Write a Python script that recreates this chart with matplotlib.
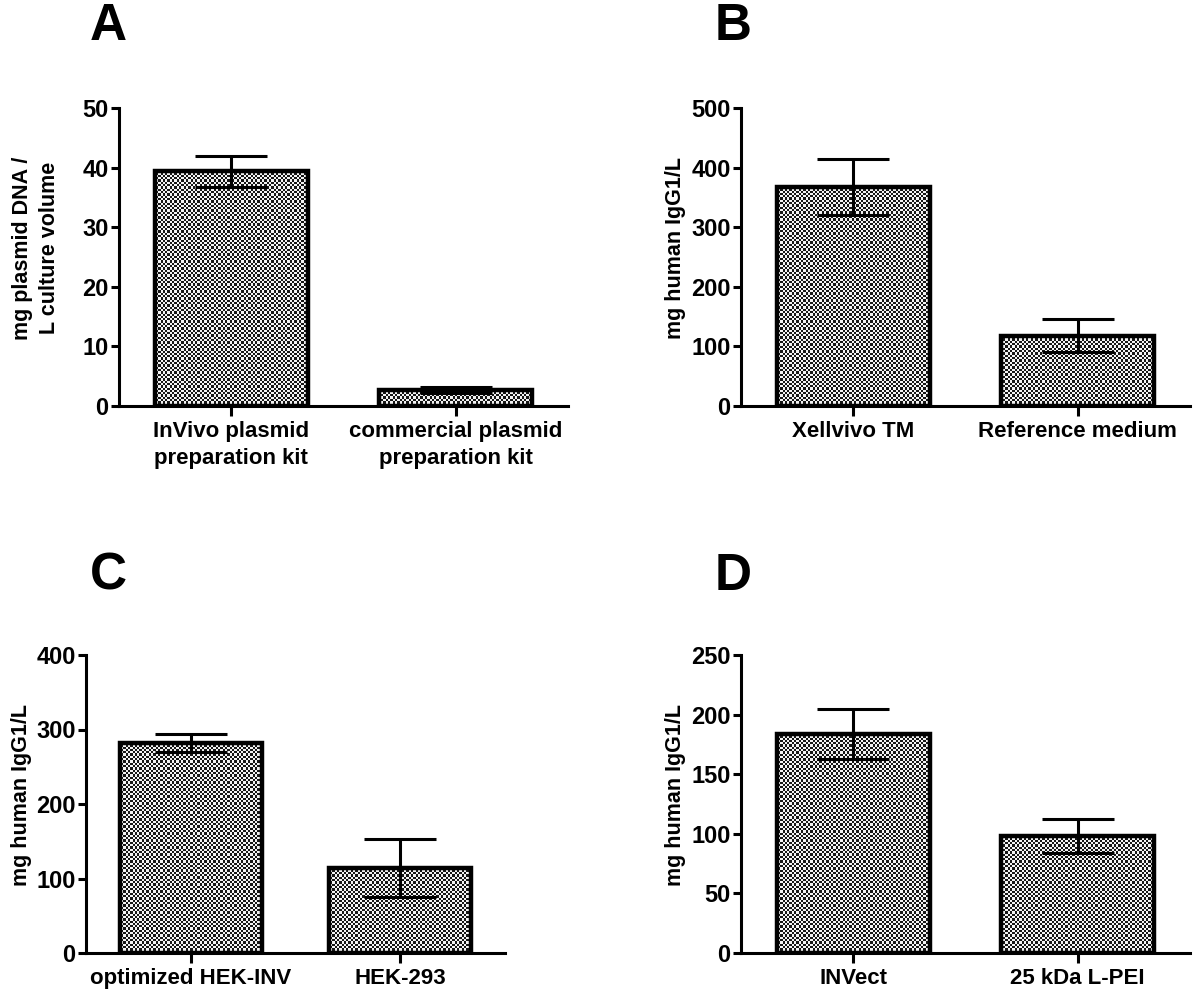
import numpy as np
import matplotlib
matplotlib.use('Agg')
import matplotlib.pyplot as plt

plt.rcParams['font.family'] = ['Liberation Sans', 'DejaVu Sans']
plt.rcParams['font.weight'] = 'bold'

# panel data (mean, SD)
cats_a = ['InVivo plasmid\npreparation kit', 'commercial plasmid\npreparation kit']
vals_a = [39.4, 2.7]
err_a = [2.6, 0.5]

cats_b = ['Xellvivo TM', 'Reference medium']
vals_b = [368, 118]
err_b = [47, 28]

cats_c = ['optimized HEK-INV', 'HEK-293']
vals_c = [282, 114]
err_c = [12, 39]

cats_d = ['INVect', '25 kDa L-PEI']
vals_d = [184, 98]
err_d = [21, 14]

W, H = 1200, 1000
fig = plt.figure(figsize=(W / 100, H / 100), dpi=100)


def checker(ax, bars):
    # fine checkerboard fill like the original (cell ~2.3 px)
    fig.canvas.draw()
    bb = ax.get_window_extent()
    cell = 2.3
    nx = int(bb.width / cell)
    ny = int(bb.height / cell)
    yy, xx = np.mgrid[0:ny, 0:nx]
    board = ((xx + yy) % 2).astype(float)
    for b in bars:
        im = ax.imshow(board, cmap='gray', vmin=-0.1, vmax=1.05,
                       extent=[0, 1, 0, 1], transform=ax.transAxes,
                       interpolation='nearest', aspect='auto', zorder=1.5)
        im.set_clip_path(b)


def panel(px, cats, vals, errs, ymax, step, ylabel, label_x, letter, lpos):
    # px = left, top, right, bottom in pixels
    l, t, r, b = px
    ax = fig.add_axes([l / W, 1 - b / H, (r - l) / W, (b - t) / H])
    x = np.arange(len(cats))
    bars = ax.bar(x, vals, width=0.68, facecolor='none', edgecolor='black',
                  linewidth=3.2, zorder=2)
    ax.errorbar(x, vals, yerr=errs, fmt='none', ecolor='black', elinewidth=2.2,
                capsize=26, capthick=2.2, zorder=3)
    ax.set_xlim(-0.5, 1.5)
    ax.set_ylim(0, ymax)
    ax.set_yticks(np.arange(0, ymax + 1, step))
    ax.set_xticks(x)
    ax.set_xticklabels(cats, fontsize=16, fontweight='bold', linespacing=1.35)
    ax.tick_params(axis='y', labelsize=17, width=2.2, length=5.5, pad=2)
    ax.tick_params(axis='x', width=2.2, length=7, pad=4)
    for s in ['top', 'right']:
        ax.spines[s].set_visible(False)
    for s in ['left', 'bottom']:
        ax.spines[s].set_linewidth(2.2)
    ax.set_ylabel(ylabel, fontsize=15.5, fontweight='bold', linespacing=1.35,
                  va='center')
    ax.yaxis.set_label_coords((label_x - l) / (r - l), 0.53)
    checker(ax, bars)
    fig.text(lpos[0] / W, 1 - lpos[1] / H, letter, fontsize=37,
             fontweight='bold', ha='center', va='center')
    return ax


panel((119, 108, 568, 406), cats_a, vals_a, err_a, 50, 10,
      'mg plasmid DNA /\nL culture volume', 36, 'A', (108, 27))
panel((741, 108, 1190, 406), cats_b, vals_b, err_b, 500, 100,
      'mg human IgG1/L', 675, 'B', (733, 27))
panel((86, 655, 505, 953), cats_c, vals_c, err_c, 400, 100,
      'mg human IgG1/L', 22, 'C', (108, 576))
panel((741, 655, 1190, 953), cats_d, vals_d, err_d, 250, 50,
      'mg human IgG1/L', 675, 'D', (733, 576))

fig.savefig('out.png', dpi=100)
